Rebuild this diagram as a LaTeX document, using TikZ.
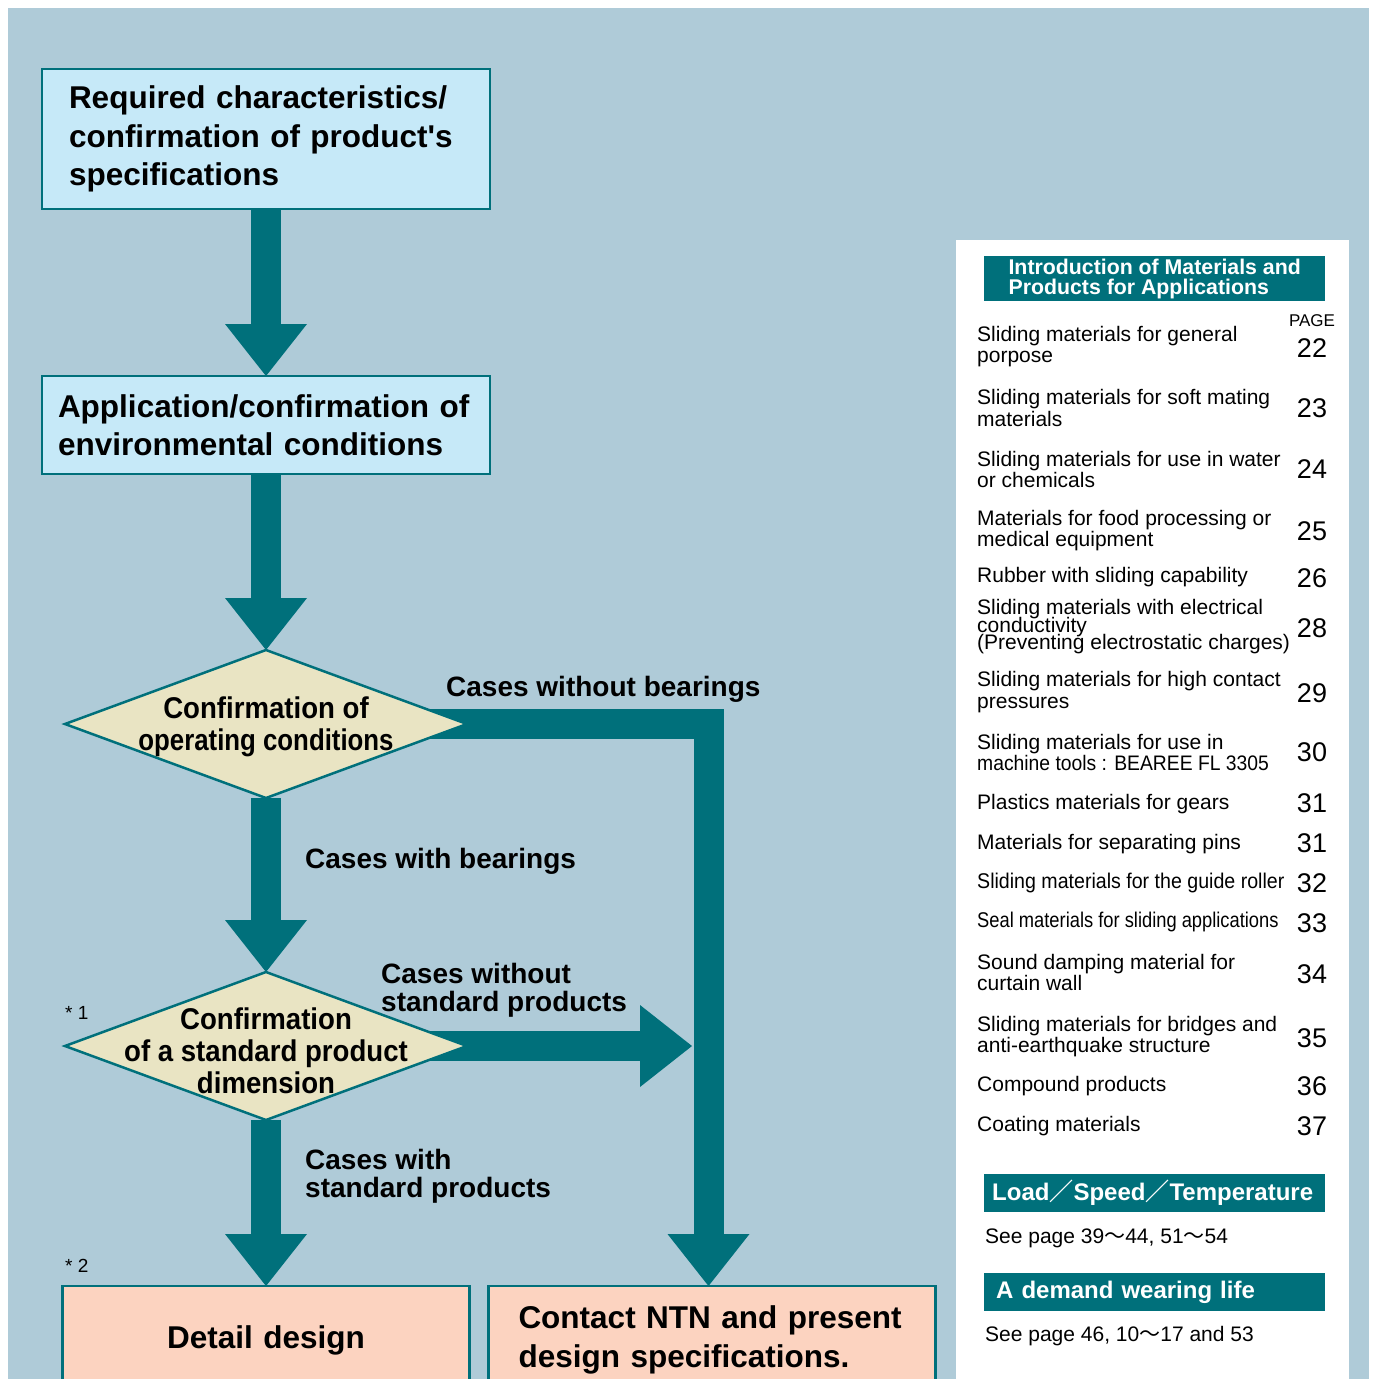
\documentclass[tikz,border=0pt]{standalone}
\usepackage{fontspec}
\setmainfont{Liberation Sans}
\newfontfamily\condfont[FakeStretch=0.92]{Liberation Sans}
\newfontfamily\tightfont[FakeStretch=0.86]{Liberation Sans}
\newfontfamily\cjkfont{Noto Sans CJK JP}
\usepackage{xcolor}
\usetikzlibrary{shapes.geometric, arrows.meta, positioning}

\definecolor{pagebg}{HTML}{AFCBD8}
\definecolor{ntnteal}{HTML}{00707B}
\definecolor{lightbox}{HTML}{C6E9F8}
\definecolor{cream}{HTML}{E9E4C3}
\definecolor{peach}{HTML}{FCD3C0}

\pgfdeclarelayer{back}
\pgfdeclarelayer{flow}
\pgfsetlayers{back,flow,main}

\newcommand{\fsz}[2]{\fontsize{#1}{#2}\selectfont}

\begin{document}
\begin{tikzpicture}[
    x=1pt, y=-1pt,
    box/.style={rectangle, draw=ntnteal, line width=2.5pt, outer sep=0pt, align=left, font=\bfseries\fsz{31.5}{38.5}, inner ysep=0pt},
    spec/.style={box, fill=lightbox, minimum width=448pt},
    result/.style={box, fill=peach, minimum height=108pt},
    decision/.style={diamond, draw=ntnteal, line width=2.5pt, outer sep=0pt, fill=cream, minimum width=402pt, minimum height=148pt, inner sep=0pt},
    dtext/.style={font=\condfont\bfseries\fsz{30}{32}, align=center, inner sep=0pt},
    case/.style={anchor=west, align=left, font=\bfseries\fsz{28}{28}, inner sep=0pt},
    note/.style={anchor=west, font=\fsz{19}{19}, inner sep=0pt},
    fat/.style={line width=30pt, draw=ntnteal, line join=miter, -{Triangle[width=82pt, length=52pt, line width=0pt]}},
    head/.style={rectangle, fill=ntnteal, text=white, anchor=north west, minimum width=341pt, align=left, inner ysep=0pt, font=\bfseries\fsz{24}{24}},
    item/.style={anchor=west, align=left, font=\fsz{21}{21.5}, inner sep=0pt},
    pg/.style={font=\fsz{27}{27}, inner sep=0pt},
]
    \useasboundingbox (0,0) rectangle (1374,1379);

    % page
    \begin{pgfonlayer}{back}
        \fill[white] (0,0) rectangle (1374,1379);
        \fill[pagebg] (8,8) rectangle (1369,1379);
    \end{pgfonlayer}

    % Specs
    \node[spec, text width=394pt, inner xsep=27pt, minimum height=140pt] (req) at (266,139) {Required characteristics/\\confirmation of product\textquotesingle s\\specifications};
    \node[spec, text width=416pt, inner xsep=16pt, minimum height=98pt, below=167pt of req] (env) {Application/confirmation of\\environmental conditions};

    % Decisions
    \node[decision, below=176pt of env, label={[dtext, yshift=-3pt]center:Confirmation of\\{\tightfont\bfseries operating conditions}}] (oper) {};
    \node[decision, below=174pt of oper, label={[dtext, yshift=-5pt]center:Confirmation\\of a standard product\\dimension}] (std) {};
    \coordinate (merge) at ([xshift=225pt]std.east);

    % Results
    \node[result, text width=347pt, inner xsep=30pt, align=center, below=166pt of std] (detail) {Detail design};
    \node[result, text width=387pt, inner xsep=30pt, right=19pt of detail] (contact) {Contact NTN and present\\design specifications.};

    % Labels
    \node[case] (nobear) at (446,689) {Cases without bearings};
    \node[case] (bear) at (305,861) {Cases with bearings};
    \node[case] (nostd) at (381,990) {Cases without\\standard products};
    \node[case] (withstd) at (305,1176) {Cases with\\standard products};
    \node[note] (n1) at (65,1013) {* 1};
    \node[note] (n2) at (65,1266) {* 2};

    % --- Arrows ---
    \begin{pgfonlayer}{flow}
        \draw[fat] (req.south) -- (env.north);
        \draw[fat] (env.south) -- (oper.north);
        \draw[fat] (oper.center) -| ([xshift=-3.5pt]contact.north);
        \draw[fat] (oper.south) -- (std.north);
        \draw[fat] (std.center) -- (merge);
        \draw[fat] (std.south) -- (detail.north);
    \end{pgfonlayer}

    % Index panel
    \node[rectangle, fill=white, anchor=north west, minimum width=393pt, minimum height=1150pt, inner sep=0pt] (panel) at (956,240) {};
    \node[head, minimum height=45pt, font=\bfseries\fsz{21.3}{20}] (intro) at (984,256) {Introduction of Materials and\\Products for Applications};
    \node[pg, font=\fsz{17}{17}] (page) at (1312,321) {PAGE};

    \node[item] (i22) at (977,346.5) {Sliding materials for general\\porpose};
    \node[pg] (p22) at (1312,348) {22};
    \node[item] (i23) at (977,408) {Sliding materials for soft mating\\materials};
    \node[pg] (p23) at (1312,408) {23};
    \node[item] (i24) at (977,469.5) {Sliding materials for use in water\\or chemicals};
    \node[pg] (p24) at (1312,469) {24};
    \node[item] (i25) at (977,530.5) {Materials for food processing or\\medical equipment};
    \node[pg] (p25) at (1312,531) {25};
    \node[item] (i26) at (977,577) {Rubber with sliding capability};
    \node[pg] (p26) at (1312,578) {26};
    \node[item] (i28) at (977,627) {Sliding materials with electrical\\[-4pt]conductivity\\[-4pt](Preventing electrostatic charges)};
    \node[pg] (p28) at (1312,628) {28};
    \node[item] (i29) at (977,692) {Sliding materials for high contact\\pressures};
    \node[pg] (p29) at (1312,693) {29};
    \node[item] (i30) at (977,752.5) {Sliding materials for use in\\{\condfont machine tools : BEAREE FL 3305}};
    \node[pg] (p30) at (1312,752) {30};
    \node[item] (i31a) at (977,804) {Plastics materials for gears};
    \node[pg] (p31a) at (1312,803) {31};
    \node[item] (i31b) at (977,844) {Materials for separating pins};
    \node[pg] (p31b) at (1312,843) {31};
    \node[item, font=\condfont\fsz{21.3}{21.5}] (i32) at (977,883) {Sliding materials for the guide roller};
    \node[pg] (p32) at (1312,883) {32};
    \node[item, font=\tightfont\fsz{21.3}{21.5}] (i33) at (977,922) {Seal materials for sliding applications};
    \node[pg] (p33) at (1312,923) {33};
    \node[item] (i34) at (977,972.5) {Sound damping material for\\curtain wall};
    \node[pg] (p34) at (1312,974) {34};
    \node[item] (i35) at (977,1036.5) {Sliding materials for bridges and\\anti-earthquake structure};
    \node[pg] (p35) at (1312,1038) {35};
    \node[item] (i36) at (977,1086) {Compound products};
    \node[pg] (p36) at (1312,1086) {36};
    \node[item] (i37) at (977,1126) {Coating materials};
    \node[pg] (p37) at (1312,1126) {37};

    % Other references
    \node[head, minimum height=38pt, text width=325pt, inner xsep=8pt] (load) at (984,1174) {Load{\cjkfont ／}Speed{\cjkfont ／}Temperature};
    \node[item] (seeload) at (985,1238) {See page 39{\cjkfont ～}44, 51{\cjkfont ～}54};
    \node[head, minimum height=38pt, text width=317pt, inner xsep=12pt] (wear) at (984,1273) {A demand wearing life};
    \node[item] (seewear) at (985,1336) {See page 46, 10{\cjkfont ～}17 and 53};

\end{tikzpicture}
\end{document}
